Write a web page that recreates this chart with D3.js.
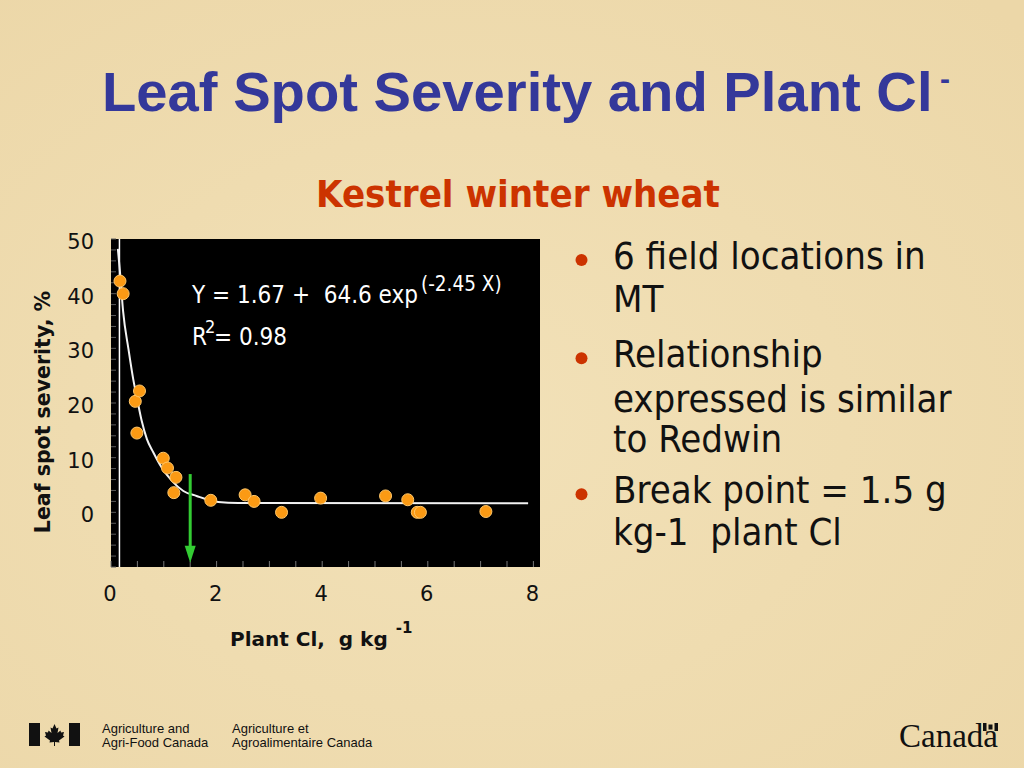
<!DOCTYPE html>
<html>
<head>
<meta charset="utf-8">
<script src="https://cdn.jsdelivr.net/npm/d3@7"></script>
<style>
  html, body { margin: 0; padding: 0; background: #efdcb0; }
  svg { display: block; }
  text { white-space: pre; }
</style>
</head>
<body>
<svg id="chart" width="1024" height="768"></svg>
<script>
// ---------- data ----------
const plantCl = [0.17, 0.23, 0.46, 0.54, 0.49, 0.99, 1.07, 1.23, 1.19, 1.89, 2.54, 2.71, 3.23, 3.97, 5.20, 5.62, 5.80, 5.86, 7.10];
const severity = [42.3, 40.0, 20.3, 22.2, 14.5, 9.9, 8.1, 6.4, 3.6, 2.2, 3.2, 2.0, 0.0, 2.6, 3.0, 2.3, 0.0, 0.0, 0.15];
const fitX = [0.13, 0.17, 0.23, 0.33, 0.42, 0.50, 0.58, 0.68, 0.80, 0.96, 1.15, 1.37, 1.62, 2.03, 2.41, 7.90];
const fitY = [48.2, 44.0, 36.7, 29.9, 24.4, 20.5, 16.8, 13.4, 11.0, 8.2, 5.8, 3.9, 3.0, 1.9, 1.7, 1.67];
const xTicks = [0, 2, 4, 6, 8];
const yTicks = [0, 10, 20, 30, 40, 50];
const breakPoint = 1.5;
const arrowRange = [7.0, -9.2];
const innerAxisX = 0.16;
const bullets = [
  ["6 field locations in", "MT"],
  ["Relationship", "expressed is similar", "to Redwin"],
  ["Break point = 1.5 g", "kg-1  plant Cl"]
];

// ---------- layout ----------
const svg = d3.select("#chart");
const x = d3.scaleLinear().domain([0, 8]).range([111, 533.4]);
const y = d3.scaleLinear().domain([-10, 50]).range([567, 239]);
const xMaxPlot = 8.125;
const COND = "'DejaVu Sans Condensed', 'DejaVu Sans', sans-serif";
const DEJ = "'DejaVu Sans', sans-serif";

// background subtle texture
const defs = svg.append("defs");
const rg = defs.append("radialGradient").attr("id", "bg").attr("cx", "45%").attr("cy", "55%").attr("r", "75%");
rg.append("stop").attr("offset", "0%").attr("stop-color", "#f2e1b8");
rg.append("stop").attr("offset", "100%").attr("stop-color", "#ecd7a8");
svg.append("rect").attr("width", 1024).attr("height", 768).attr("fill", "url(#bg)");

// title
svg.append("text")
  .attr("x", 102).attr("y", 110.7)
  .attr("font-family", "'Liberation Sans', Arial, sans-serif")
  .attr("font-weight", "bold").attr("font-size", 56.2)
  .attr("fill", "#34389a")
  .text("Leaf Spot Severity and Plant Cl");
svg.append("text")
  .attr("x", 940).attr("y", 89)
  .attr("font-family", "'Liberation Sans', Arial, sans-serif")
  .attr("font-weight", "bold").attr("font-size", 30)
  .attr("fill", "#34389a")
  .text("-");

// subtitle
svg.append("text")
  .attr("x", 518).attr("y", 206.7).attr("text-anchor", "middle")
  .attr("font-family", "'DejaVu Sans Condensed', sans-serif")
  .attr("font-weight", "bold").attr("font-size", 38)
  .attr("fill", "#cc3300")
  .text("Kestrel winter wheat");

// plot background
svg.append("rect")
  .attr("x", x(0)).attr("y", y(50))
  .attr("width", x(xMaxPlot) - x(0)).attr("height", y(-10) - y(50))
  .attr("fill", "#000");

// y minor ticks (every 2)
svg.append("g").selectAll("line").data(d3.range(-10, 50.01, 2)).join("line")
  .attr("x1", x(0)).attr("x2", x(0) + 5)
  .attr("y1", d => y(d)).attr("y2", d => y(d))
  .attr("stroke", "#5a5a5a").attr("stroke-width", 1);

// x minor ticks (every 0.5)
svg.append("g").selectAll("line").data(d3.range(0, 8.01, 0.5)).join("line")
  .attr("x1", d => x(d)).attr("x2", d => x(d))
  .attr("y1", y(-10)).attr("y2", y(-10) - 6)
  .attr("stroke", "#777").attr("stroke-width", 1);

// inner vertical axis line
svg.append("line")
  .attr("x1", x(innerAxisX)).attr("x2", x(innerAxisX))
  .attr("y1", y(50)).attr("y2", y(-10))
  .attr("stroke", "#fff").attr("stroke-width", 1.5);

// tick labels
svg.append("g").selectAll("text").data(yTicks).join("text")
  .attr("x", 94).attr("y", d => y(d) + 10)
  .attr("text-anchor", "end")
  .attr("font-family", DEJ).attr("font-size", 21).attr("fill", "#111")
  .text(d => d);
svg.append("g").selectAll("text").data(xTicks).join("text")
  .attr("x", d => x(d) - 1).attr("y", 601)
  .attr("text-anchor", "middle")
  .attr("font-family", DEJ).attr("font-size", 21).attr("fill", "#111")
  .text(d => d);

// axis titles
svg.append("text")
  .attr("transform", "translate(50,412) rotate(-90)")
  .attr("text-anchor", "middle")
  .attr("font-family", DEJ).attr("font-weight", "bold").attr("font-size", 20.5)
  .attr("fill", "#111")
  .text("Leaf spot severity, %");
const xt = svg.append("text")
  .attr("x", 230).attr("y", 646)
  .attr("font-family", DEJ).attr("font-weight", "bold").attr("font-size", 20)
  .attr("fill", "#111");
xt.append("tspan").text("Plant Cl,  g kg");
xt.append("tspan").text("-1").attr("font-size", 15).attr("dx", 8).attr("dy", -13);

// fitted curve
const line = d3.line().x(d => x(d[0])).y(d => y(d[1])).curve(d3.curveMonotoneX);
svg.append("path")
  .datum(d3.zip(fitX, fitY))
  .attr("d", line)
  .attr("fill", "none").attr("stroke", "#f2f2f2").attr("stroke-width", 2);

// points
svg.append("g").selectAll("circle").data(d3.zip(plantCl, severity)).join("circle")
  .attr("cx", d => x(d[0])).attr("cy", d => y(d[1])).attr("r", 6)
  .attr("fill", "#fb9a14").attr("stroke", "#ffc76a").attr("stroke-width", 1);

// break point arrow
const ax = x(breakPoint);
svg.append("line")
  .attr("x1", ax).attr("x2", ax)
  .attr("y1", y(arrowRange[0])).attr("y2", y(arrowRange[1]) - 12)
  .attr("stroke", "#33cc33").attr("stroke-width", 3);
svg.append("path")
  .attr("d", `M${ax - 5.5},${y(arrowRange[1]) - 17} L${ax + 5.5},${y(arrowRange[1]) - 17} L${ax},${y(arrowRange[1])} Z`)
  .attr("fill", "#33cc33");

// equation
const eq = svg.append("g").attr("font-family", COND).attr("fill", "#fff");
eq.append("text").attr("x", 192).attr("y", 303).attr("font-size", 24).text("Y = 1.67 +  64.6 exp");
eq.append("text").attr("x", 421).attr("y", 291).attr("font-size", 20.5).text("(-2.45 X)");
eq.append("text").attr("x", 192).attr("y", 345).attr("font-size", 24).text("R");
eq.append("text").attr("x", 205).attr("y", 333).attr("font-size", 18).text("2");
eq.append("text").attr("x", 214).attr("y", 345).attr("font-size", 24).text("= 0.98");

// bullets
const lineBase = [[269, 312], [367.3, 411.7, 451.7], [503.3, 545]];
const bg = svg.append("g");
bullets.forEach((lines, i) => {
  bg.append("circle").attr("cx", 581.5).attr("cy", lineBase[i][0] - 9).attr("r", 6).attr("fill", "#cc3300");
  lines.forEach((t, j) => {
    bg.append("text").attr("x", 613).attr("y", lineBase[i][j])
      .attr("font-family", COND).attr("font-size", 38).attr("fill", "#111")
      .text(t);
  });
});

// footer: flag symbol
const fg = svg.append("g").attr("fill", "#111");
fg.append("rect").attr("x", 29).attr("y", 723).attr("width", 11).attr("height", 23);
fg.append("rect").attr("x", 69).attr("y", 723).attr("width", 11).attr("height", 23);
fg.append("path").attr("d",
  "M54.5,724 L52.5,728.5 L50.5,727.5 L51.5,733 L48.5,730.5 L48,732.5 L45,732 L46,735.5 L44.5,736.5 L50,740.5 L49.5,742.5 L54,742 L54,746 L55,746 L55,742 L59.5,742.5 L59,740.5 L64.5,736.5 L63,735.5 L64,732 L61,732.5 L60.5,730.5 L57.5,733 L58.5,727.5 L56.5,728.5 Z");

const ft = svg.append("g").attr("font-family", "'Liberation Sans', Arial, sans-serif").attr("font-size", 13).attr("fill", "#111");
ft.append("text").attr("x", 102).attr("y", 733.3).text("Agriculture and");
ft.append("text").attr("x", 102).attr("y", 746.7).text("Agri-Food Canada");
ft.append("text").attr("x", 232).attr("y", 733.3).text("Agriculture et");
ft.append("text").attr("x", 232).attr("y", 746.7).text("Agroalimentaire Canada");

// Canada wordmark
svg.append("text").attr("x", 899).attr("y", 746.7)
  .attr("font-family", "'Liberation Serif', 'Times New Roman', serif")
  .attr("font-size", 33).attr("fill", "#111").text("Canada");
const mf = svg.append("g").attr("fill", "#111");
mf.append("rect").attr("x", 983).attr("y", 723).attr("width", 3.5).attr("height", 8);
mf.append("rect").attr("x", 994.5).attr("y", 723).attr("width", 3.5).attr("height", 8);
mf.append("rect").attr("x", 988.5).attr("y", 724.5).attr("width", 4).attr("height", 5);
</script>
</body>
</html>
